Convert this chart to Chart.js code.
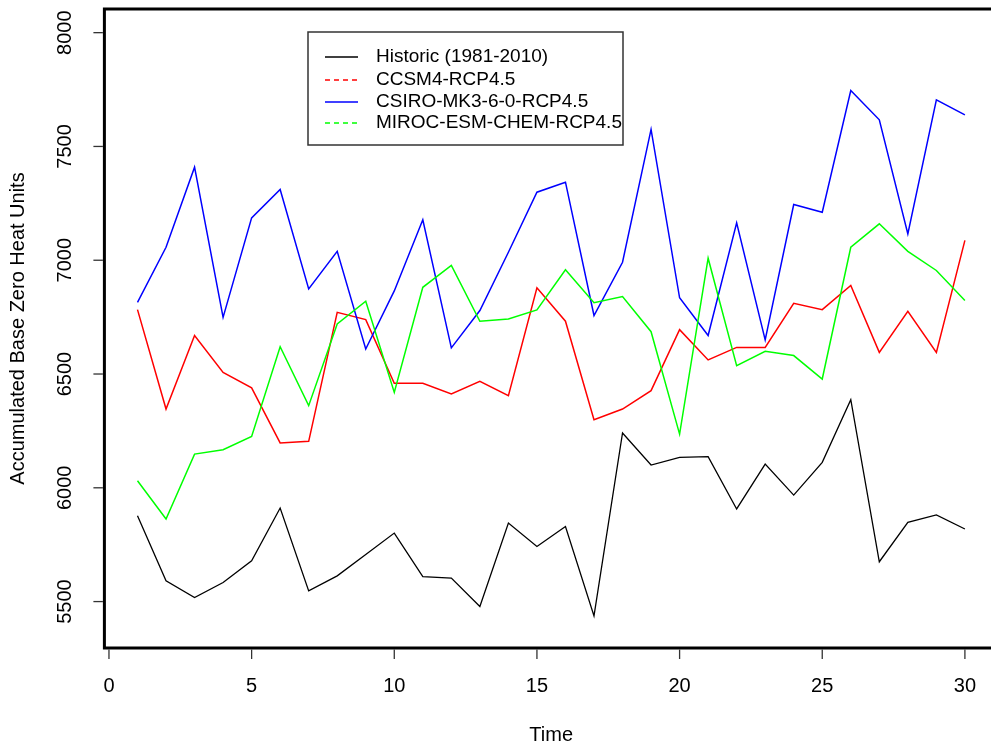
<!DOCTYPE html>
<html>
<head>
<meta charset="utf-8">
<script src="https://cdn.jsdelivr.net/npm/chart.js@4/dist/chart.umd.min.js"></script>
<style>
  html, body { margin: 0; padding: 0; background: #fff; overflow: hidden; }
  #wrap { width: 1010px; height: 749px; }
</style>
</head>
<body>
<div id="wrap"><canvas id="grafico" width="1010" height="749"></canvas></div>
<script>
// ========== Datos ==========
const tiempo = [1, 2, 3, 4, 5, 6, 7, 8, 9, 10, 11, 12, 13, 14, 15, 16, 17, 18, 19, 20, 21, 22, 23, 24, 25, 26, 27, 28, 29, 30];

const historico = [5877, 5591, 5518, 5584, 5679, 5911, 5547, 5613, 5707, 5801, 5610, 5603, 5478, 5845, 5742,
  5830, 5437, 6241, 6100, 6134, 6137, 5907, 6104, 5968, 6112, 6387, 5675, 5848, 5881, 5819];
const ccsm4 = [6783, 6346, 6669, 6507, 6439, 6197, 6204, 6771, 6739, 6459, 6459, 6412, 6468, 6405, 6879,
  6732, 6299, 6346, 6427, 6695, 6562, 6617, 6617, 6811, 6783, 6889, 6595, 6776, 6595, 7087];
const csiro = [6815, 7057, 7409, 6749, 7186, 7311, 6874, 7039, 6610, 6865, 7178, 6615, 6779, 7035, 7299,
  7343, 6757, 6991, 7575, 6835, 6669, 7164, 6650, 7245, 7211, 7746, 7617, 7116, 7705, 7639];
const miroc = [6031, 5863, 6148, 6167, 6226, 6620, 6361, 6720, 6820, 6419, 6881, 6977, 6732, 6742, 6782,
  6958, 6813, 6840, 6686, 6236, 7009, 6537, 6600, 6581, 6478, 7057, 7160, 7039, 6955, 6823];

const etiquetas = ["Historic (1981-2010)", "CCSM4-RCP4.5", "CSIRO-MK3-6-0-RCP4.5", "MIROC-ESM-CHEM-RCP4.5"];
const colores = ["#000000", "#ff0000", "#0000ff", "#00ff00"];
const dashLeyenda = [[], [5, 4], [], [5, 4]];

const ticksX = [0, 5, 10, 15, 20, 25, 30];
const ticksY = [5500, 6000, 6500, 7000, 7500, 8000];

const tituloX = "Time";
const tituloY = "Accumulated Base Zero Heat Units";

// ========== Ejes y caja estilo R ==========
const cajaR = {
  id: "cajaR",
  afterDraw(chart) {
    const { ctx, chartArea: a, scales } = chart;
    const sx = scales.x, sy = scales.y;
    ctx.save();

    ctx.strokeStyle = "#000";
    ctx.lineWidth = 3;
    ctx.strokeRect(a.left, a.top, a.right - a.left, a.bottom - a.top);

    ctx.font = "20px 'Liberation Sans', Arial, sans-serif";
    ctx.fillStyle = "#000";
    ctx.strokeStyle = "#333";
    ctx.lineWidth = 1.3;

    // eje x
    ctx.textAlign = "center";
    ctx.textBaseline = "middle";
    ticksX.forEach((t) => {
      const px = sx.getPixelForValue(t);
      ctx.beginPath();
      ctx.moveTo(px, a.bottom + 1.5);
      ctx.lineTo(px, a.bottom + 11);
      ctx.stroke();
      ctx.fillText(String(t), px, 686);
    });

    // eje y (etiquetas giradas)
    ticksY.forEach((t) => {
      const py = sy.getPixelForValue(t);
      ctx.beginPath();
      ctx.moveTo(a.left - 1.5, py);
      ctx.lineTo(a.left - 11, py);
      ctx.stroke();
      ctx.save();
      ctx.translate(65, py);
      ctx.rotate(-Math.PI / 2);
      ctx.fillText(String(t), 0, 0);
      ctx.restore();
    });

    // titulos
    ctx.fillText(tituloX, (a.left + a.right) / 2, 735);
    ctx.save();
    ctx.translate(18, (a.top + a.bottom) / 2);
    ctx.rotate(-Math.PI / 2);
    ctx.fillText(tituloY, 0, 0);
    ctx.restore();

    // leyenda
    const lx = 308, ly = 32, lw = 315, lh = 113;
    ctx.strokeStyle = "#333";
    ctx.lineWidth = 1.5;
    ctx.strokeRect(lx, ly, lw, lh);
    ctx.font = "19px 'Liberation Sans', Arial, sans-serif";
    ctx.textAlign = "left";
    const filas = [57, 80, 102, 123];
    chart.data.datasets.forEach((ds, i) => {
      const yy = filas[i];
      ctx.strokeStyle = colores[i];
      ctx.lineWidth = 1.5;
      ctx.setLineDash(dashLeyenda[i]);
      ctx.beginPath();
      ctx.moveTo(325, yy);
      ctx.lineTo(358, yy);
      ctx.stroke();
      ctx.setLineDash([]);
      ctx.fillStyle = "#000";
      ctx.fillText(ds.label, 376, yy);
    });

    ctx.restore();
  },
};

// ========== Grafico ==========
function serie(valores) {
  return valores.map((v, i) => ({ x: tiempo[i], y: v }));
}

const series = [historico, ccsm4, csiro, miroc];

new Chart(document.getElementById("grafico"), {
  type: "line",
  data: {
    datasets: series.map((s, i) => ({
      label: etiquetas[i],
      data: serie(s),
      borderColor: colores[i],
      borderWidth: i === 0 ? 1.3 : 1.5,
      pointRadius: 0,
      tension: 0,
      fill: false,
      order: 4 - i,
    })),
  },
  options: {
    responsive: false,
    devicePixelRatio: 1,
    animation: false,
    layout: { padding: { left: 104.4, top: 9, right: 12, bottom: 101 } },
    scales: {
      x: { type: "linear", min: -0.16, max: 31.16, display: false },
      y: { type: "linear", min: 5296, max: 8104, display: false },
    },
    plugins: {
      legend: { display: false },
      tooltip: { enabled: false },
    },
  },
  plugins: [cajaR],
});
</script>
</body>
</html>
